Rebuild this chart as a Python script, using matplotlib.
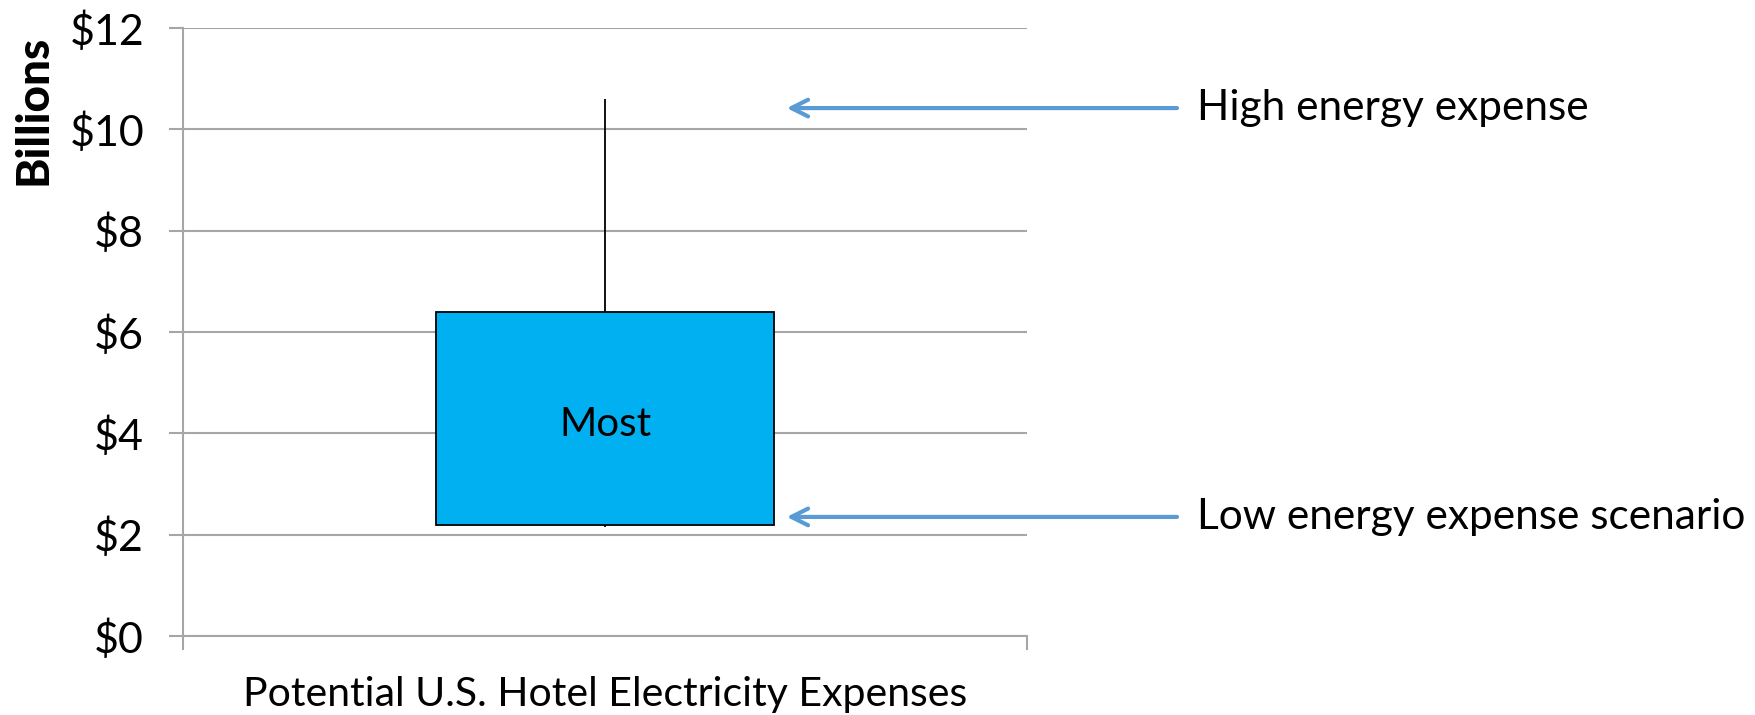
import matplotlib
matplotlib.use('Agg')
import matplotlib.pyplot as plt

categories = ['Potential U.S. Hotel Electricity Expenses']
low_vals = [2.15]
open_vals = [2.2]
close_vals = [6.4]
high_vals = [10.6]
box_label = 'Most'
y_ticks = [0, 2, 4, 6, 8, 10, 12]
y_tick_labels = ['$0', '$2', '$4', '$6', '$8', '$10', '$12']
notes = ['High energy expense', 'Low energy expense scenario']
note_y = [10.42, 2.35]

plt.rcParams['font.family'] = ['Lato', 'DejaVu Sans']

fig = plt.figure(figsize=(17.55, 7.15), dpi=100)
ax = fig.add_axes([0.1043, 0.1105, 0.4809, 0.8503])

grid_c = '#A6A6A6'
xs = list(range(len(categories)))
for x, lo, op, cl, hi in zip(xs, low_vals, open_vals, close_vals, high_vals):
    ax.vlines(x, lo, hi, color='black', lw=1.3, zorder=2)
    ax.bar(x, cl - op, bottom=op, width=0.4, color='#00B0F0',
           edgecolor='black', lw=1.3, zorder=3)
    # label sits a bit below the middle of the box
    ax.text(x, (op + cl) / 2 - 0.13, box_label, ha='center', va='center',
            fontsize=29, zorder=4)

ax.set_xlim(-0.5, len(categories) - 0.5)
ax.set_ylim(0, 12)
ax.set_yticks(y_ticks)
ax.set_yticklabels(y_tick_labels, fontsize=31)
ax.yaxis.grid(True, color=grid_c, lw=1.5)
ax.set_axisbelow(True)

ax.set_xticks(xs)
ax.set_xticklabels(categories, fontsize=29.5)
ax.set_xticks([-0.5, len(categories) - 0.5], minor=True)
ax.tick_params(axis='x', which='major', length=0, pad=29)
ax.tick_params(axis='x', which='minor', length=10, color=grid_c, width=1.5)
ax.tick_params(axis='y', length=10, color=grid_c, width=1.5, pad=18)

for s in ['top', 'right']:
    ax.spines[s].set_visible(False)
ax.spines['left'].set_color(grid_c)
ax.spines['left'].set_linewidth(1.5)
ax.spines['bottom'].set_color(grid_c)
ax.spines['bottom'].set_linewidth(1.5)

fig.text(0.019, 0.846, 'Billions', rotation=90, fontsize=33, fontweight='black',
         ha='center', va='center')

for txt, yv in zip(notes, note_y):
    ax.annotate('', xy=(0.712, yv), xytext=(1.181, yv),
                xycoords=('axes fraction', 'data'),
                textcoords=('axes fraction', 'data'),
                arrowprops=dict(arrowstyle='->', color='#5B9BD5', lw=3,
                                mutation_scale=30),
                annotation_clip=False)
    ax.text(1.201, yv, txt, transform=ax.get_yaxis_transform(),
            fontsize=30.5, ha='left', va='center')

fig.savefig('out.png', dpi=100)
